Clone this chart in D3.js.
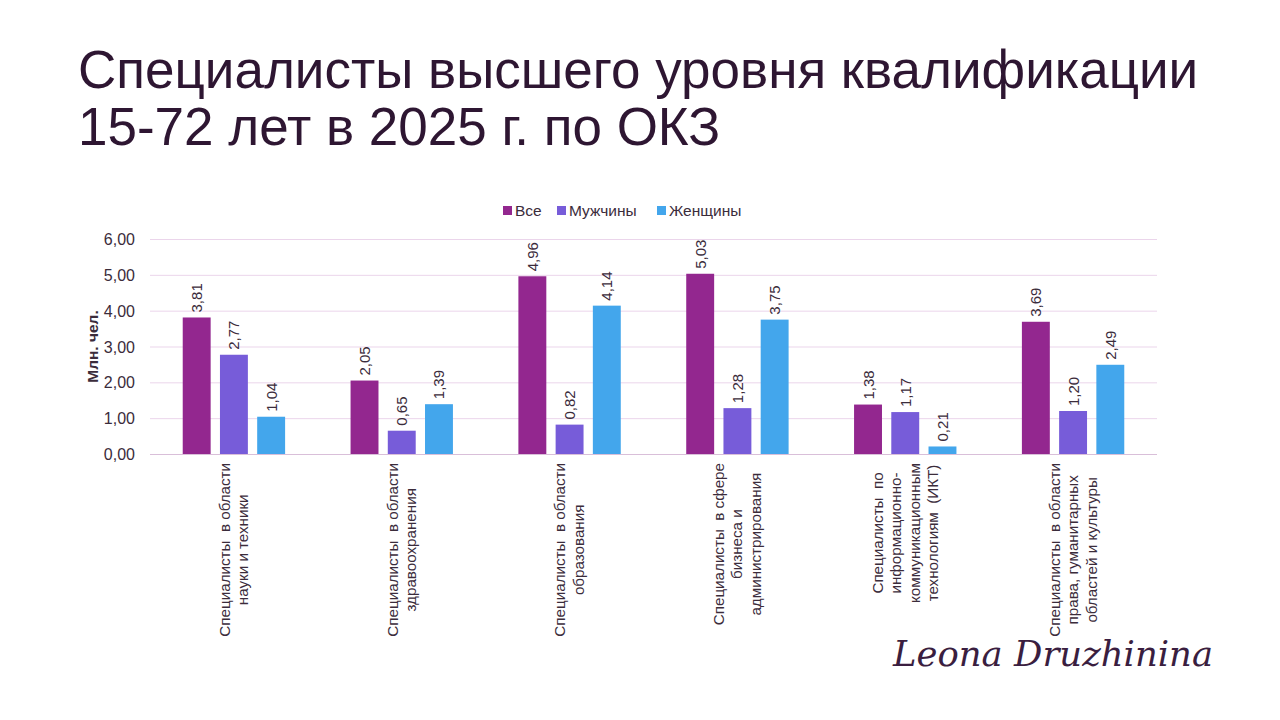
<!DOCTYPE html>
<html>
<head>
<meta charset="utf-8">
<script src="https://cdn.jsdelivr.net/npm/d3@7"></script>
<style>
  body { margin: 0; background: #fff; }
  svg { display: block; font-family: "Liberation Sans", Arial, sans-serif; }
</style>
</head>
<body>
<script>
// ---------------- data ----------------
var categories = [
  ["Специалисты  в области", "науки и техники"],
  ["Специалисты  в области", "здравоохранения"],
  ["Специалисты  в области", "образования"],
  ["Специалисты  в сфере", "бизнеса и", "администрирования"],
  ["Специалисты  по", "информационно-", "коммуникационным", "технологиям  (ИКТ)"],
  ["Специалисты  в области", "права, гуманитарных", "областей и культуры"]
];
var seriesNames = ["Все", "Мужчины", "Женщины"];
var allValues = [3.81, 2.05, 4.96, 5.03, 1.38, 3.69];
var menValues = [2.77, 0.65, 0.82, 1.28, 1.17, 1.20];
var womenValues = [1.04, 1.39, 4.14, 3.75, 0.21, 2.49];
var yTicks = [0, 1, 2, 3, 4, 5, 6];
var colors = ["#93278F", "#775CD9", "#43A6EC"];

var series = [allValues, menValues, womenValues];
var fmt = function (v) { return v.toFixed(2).replace(".", ","); };
var textColor = "#3B2C3B";

var width = 1280, height = 720;
var svg = d3.select("body").append("svg").attr("width", width).attr("height", height);

//---------------- title ----------------
var titleColor = "#2E1632";
var titleLines = ["Специалисты высшего уровня квалификации", "15-72 лет в 2025 г. по ОКЗ"];
var t1 = svg.append("text").attr("x", 78).attr("y", 88)
  .attr("font-size", 53).attr("fill", titleColor).text(titleLines[0]);
// justify first line like the slide
var w1 = t1.node().getComputedTextLength();
t1.attr("word-spacing", Math.max(0, (1117 - w1) / 3));
svg.append("text").attr("x", 78).attr("y", 145)
  .attr("font-size", 53).attr("fill", titleColor).text(titleLines[1]);

//---------------- chart ----------------
var margin = { left: 150, right: 1157, top: 239, bottom: 454 };

var x0 = d3.scaleBand().domain(d3.range(categories.length))
  .range([margin.left, margin.right]).paddingInner(0.39).paddingOuter(0.195);
var x1 = d3.scaleBand().domain(d3.range(seriesNames.length))
  .range([0, x0.bandwidth()]).paddingInner(0.25);
var y = d3.scaleLinear().domain([0, 6]).range([margin.bottom, margin.top]);

// grid
svg.append("g").selectAll("line").data(yTicks).enter().append("line")
  .attr("x1", margin.left).attr("x2", margin.right)
  .attr("y1", function (d) { return y(d) + 0.5; })
  .attr("y2", function (d) { return y(d) + 0.5; })
  .attr("stroke", function (d) { return d === 0 ? "#D9BFD9" : "#EBD5EB"; })
  .attr("stroke-width", 1);

// y axis
var yAxis = svg.append("g").attr("transform", "translate(" + (margin.left - 12) + ",0)")
  .call(d3.axisLeft(y).tickValues(yTicks).tickSize(0).tickFormat(fmt));
yAxis.select(".domain").remove();
yAxis.selectAll("text").attr("font-size", 16).attr("fill", textColor)
  .attr("font-family", "Liberation Sans, Arial, sans-serif").attr("dy", "0.35em");

svg.append("text")
  .attr("transform", "translate(98," + ((margin.top + margin.bottom) / 2) + ") rotate(-90)")
  .attr("text-anchor", "middle").attr("font-size", 15.5).attr("font-weight", "bold")
  .attr("fill", textColor).text("Млн. чел.");

// bars
var groups = svg.append("g").selectAll("g").data(categories).enter().append("g")
  .attr("transform", function (d, i) { return "translate(" + x0(i) + ",0)"; });

groups.selectAll("rect")
  .data(function (d, i) { return series.map(function (s, j) { return { s: j, v: s[i] }; }); })
  .enter().append("rect")
  .attr("x", function (d) { return x1(d.s); })
  .attr("width", x1.bandwidth())
  .attr("y", function (d) { return y(d.v); })
  .attr("height", function (d) { return y(0) - y(d.v); })
  .attr("fill", function (d) { return colors[d.s]; });

groups.selectAll("text.val")
  .data(function (d, i) { return series.map(function (s, j) { return { s: j, v: s[i] }; }); })
  .enter().append("text").attr("class", "val")
  .attr("transform", function (d) {
    return "translate(" + (x1(d.s) + x1.bandwidth() / 2 + 5.5) + "," + (y(d.v) - 5) + ") rotate(-90)";
  })
  .attr("font-size", 15).attr("fill", textColor).text(function (d) { return fmt(d.v); });

// category labels (rotated, block anchored at top, lines centred in block)
var lineH = 18.5, labelTop = 463;
categories.forEach(function (lines, i) {
  var cx = x0(i) + x0.bandwidth() / 2;
  var g = svg.append("g");
  var texts = lines.map(function (l) {
    return g.append("text").attr("font-size", 15.2).attr("fill", textColor)
      .attr("text-anchor", "middle").style("white-space", "pre").text(l);
  });
  var maxLen = d3.max(texts, function (t) { return t.node().getComputedTextLength(); });
  var n = lines.length;
  texts.forEach(function (t, k) {
    var lx = cx + (k - (n - 1) / 2) * lineH + 5;
    t.attr("transform", "translate(" + lx + "," + (labelTop + maxLen / 2) + ") rotate(-90)");
  });
});

// legend
var legendX = [503, 557, 657];
var legend = svg.append("g").selectAll("g").data(seriesNames).enter().append("g")
  .attr("transform", function (d, i) { return "translate(" + legendX[i] + ",206)"; });
legend.append("rect").attr("width", 9).attr("height", 9)
  .attr("fill", function (d, i) { return colors[i]; });
legend.append("text").attr("x", 12).attr("y", 10).attr("font-size", 15.5)
  .attr("fill", textColor).text(function (d) { return d; });

// signature
svg.append("text").attr("x", 893).attr("y", 666)
  .attr("font-family", "DejaVu Serif, serif").attr("font-style", "italic")
  .attr("font-size", 36).attr("fill", "#3A1E40")
  .attr("textLength", 320).attr("lengthAdjust", "spacingAndGlyphs")
  .text("Leona Druzhinina");
</script>
</body>
</html>
